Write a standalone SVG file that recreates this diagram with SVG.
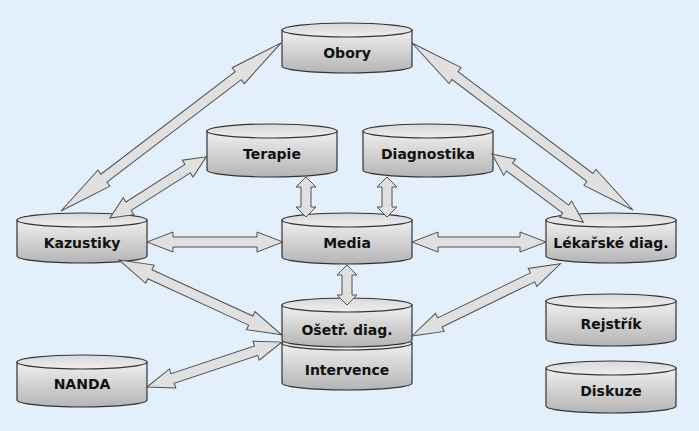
<svg xmlns="http://www.w3.org/2000/svg" width="699" height="431" viewBox="0 0 699 431">
<defs>
<linearGradient id="body" x1="0" y1="0" x2="0" y2="1">
<stop offset="0" stop-color="#f0f0f0"/>
<stop offset="1" stop-color="#b4b4b4"/>
</linearGradient>
<linearGradient id="cap" x1="0" y1="0" x2="0" y2="1">
<stop offset="0" stop-color="#d8d8d8"/>
<stop offset="1" stop-color="#eeeeee"/>
</linearGradient>
</defs>
<style>
.b{fill:url(#body);stroke:#333;stroke-width:1.2}
.c{fill:url(#cap);stroke:#333;stroke-width:1.2}
.t{font-family:"DejaVu Sans",Verdana,sans-serif;font-weight:bold;font-size:14px;fill:#111;text-anchor:middle}
.a{fill:#e0e0e0;stroke:#505050;stroke-width:1;stroke-linejoin:miter}
</style>
<rect width="699" height="431" fill="#e4effc"/>
<g id="nodes">
<g id="obory"><path class="b" d="M282,30 V66 A65,7 0 0 0 412,66 V30 Z"/><ellipse class="c" cx="347" cy="30" rx="65" ry="7"/><text class="t" x="347" y="58">Obory</text></g>
<g id="terapie"><path class="b" d="M207,131 V170 A65,7 0 0 0 337,170 V131 Z"/><ellipse class="c" cx="272" cy="131" rx="65" ry="7"/><text class="t" x="272" y="159">Terapie</text></g>
<g id="diagnostika"><path class="b" d="M363,131 V170 A65,7 0 0 0 493,170 V131 Z"/><ellipse class="c" cx="428" cy="131" rx="65" ry="7"/><text class="t" x="428" y="159">Diagnostika</text></g>
<g id="kazustiky"><path class="b" d="M17,220 V256 A65,7 0 0 0 147,256 V220 Z"/><ellipse class="c" cx="82" cy="220" rx="65" ry="7"/><text class="t" x="82" y="248">Kazustiky</text></g>
<g id="media"><path class="b" d="M282,220 V257 A65,7 0 0 0 412,257 V220 Z"/><ellipse class="c" cx="347" cy="220" rx="65" ry="7"/><text class="t" x="347" y="248">Media</text></g>
<g id="lekarske"><path class="b" d="M546,220 V256 A65,7 0 0 0 676,256 V220 Z"/><ellipse class="c" cx="611" cy="220" rx="65" ry="7"/><text class="t" x="611" y="248">Lékařské diag.</text></g>
<g id="rejstrik"><path class="b" d="M546,301 V339 A65,7 0 0 0 676,339 V301 Z"/><ellipse class="c" cx="611" cy="301" rx="65" ry="7"/><text class="t" x="611" y="329">Rejstřík</text></g>
<g id="diskuze"><path class="b" d="M546,368 V406 A65,7 0 0 0 676,406 V368 Z"/><ellipse class="c" cx="611" cy="368" rx="65" ry="7"/><text class="t" x="611" y="396">Diskuze</text></g>
<g id="nanda"><path class="b" d="M17,362 V400 A65,7 0 0 0 147,400 V362 Z"/><ellipse class="c" cx="82" cy="362" rx="65" ry="7"/><text class="t" x="82" y="389">NANDA</text></g>
<g id="intervence"><path class="b" d="M282,343 V383 A65,7 0 0 0 412,383 V343 Z"/><ellipse class="c" cx="347" cy="343" rx="65" ry="7"/><text class="t" x="347" y="375">Intervence</text></g>
<g id="osetr"><path class="b" d="M282,305 V340 A65,7 0 0 0 412,340 V305 Z"/><ellipse class="c" cx="347" cy="305" rx="65" ry="7"/><text class="t" x="347" y="335">Ošetř. diag.</text></g>
</g>
<g id="connectors">
<path class="a" transform="translate(61,211) rotate(-37.37)" d="M0,0 L54,-10 L54,-5 L223,-5 L223,-10 L277,0 L223,10 L223,5 L54,5 L54,10 Z"/>
<path class="a" transform="translate(110,218) rotate(-32.43)" d="M0,0 L22,-10 L22,-5 L92,-5 L92,-10 L114,0 L92,10 L92,5 L22,5 L22,10 Z"/>
<path class="a" transform="translate(412,43) rotate(37.08)" d="M0,0 L54,-10 L54,-5 L223,-5 L223,-10 L277,0 L223,10 L223,5 L54,5 L54,10 Z"/>
<path class="a" transform="translate(492,154) rotate(36.77)" d="M0,0 L22,-10 L22,-5 L92,-5 L92,-10 L114,0 L92,10 L92,5 L22,5 L22,10 Z"/>
<path class="a" transform="translate(147,242)" d="M0,0 L26,-10 L26,-5 L110,-5 L110,-10 L136,0 L110,10 L110,5 L26,5 L26,10 Z"/>
<path class="a" transform="translate(412,242)" d="M0,0 L26,-10 L26,-5 L108,-5 L108,-10 L134,0 L108,10 L108,5 L26,5 L26,10 Z"/>
<path class="a" transform="translate(306,177) rotate(90)" d="M0,0 L10,-10 L10,-5 L30,-5 L30,-10 L40,0 L30,10 L30,5 L10,5 L10,10 Z"/>
<path class="a" transform="translate(387,177) rotate(90)" d="M0,0 L10,-10 L10,-5 L30,-5 L30,-10 L40,0 L30,10 L30,5 L10,5 L10,10 Z"/>
<path class="a" transform="translate(347,265) rotate(90)" d="M0,0 L10,-10 L10,-5 L30,-5 L30,-10 L40,0 L30,10 L30,5 L10,5 L10,10 Z"/>
<path class="a" transform="translate(119,260) rotate(24.71)" d="M0,0 L34,-10 L34,-5 L145,-5 L145,-10 L179,0 L145,10 L145,5 L34,5 L34,10 Z"/>
<path class="a" transform="translate(147,387) rotate(-18.43)" d="M0,0 L27,-10 L27,-5 L115,-5 L115,-10 L142,0 L115,10 L115,5 L27,5 L27,10 Z"/>
<path class="a" transform="translate(412,336) rotate(-25.94)" d="M0,0 L31,-10 L31,-5 L134,-5 L134,-10 L165,0 L134,10 L134,5 L31,5 L31,10 Z"/>
</g>
</svg>
